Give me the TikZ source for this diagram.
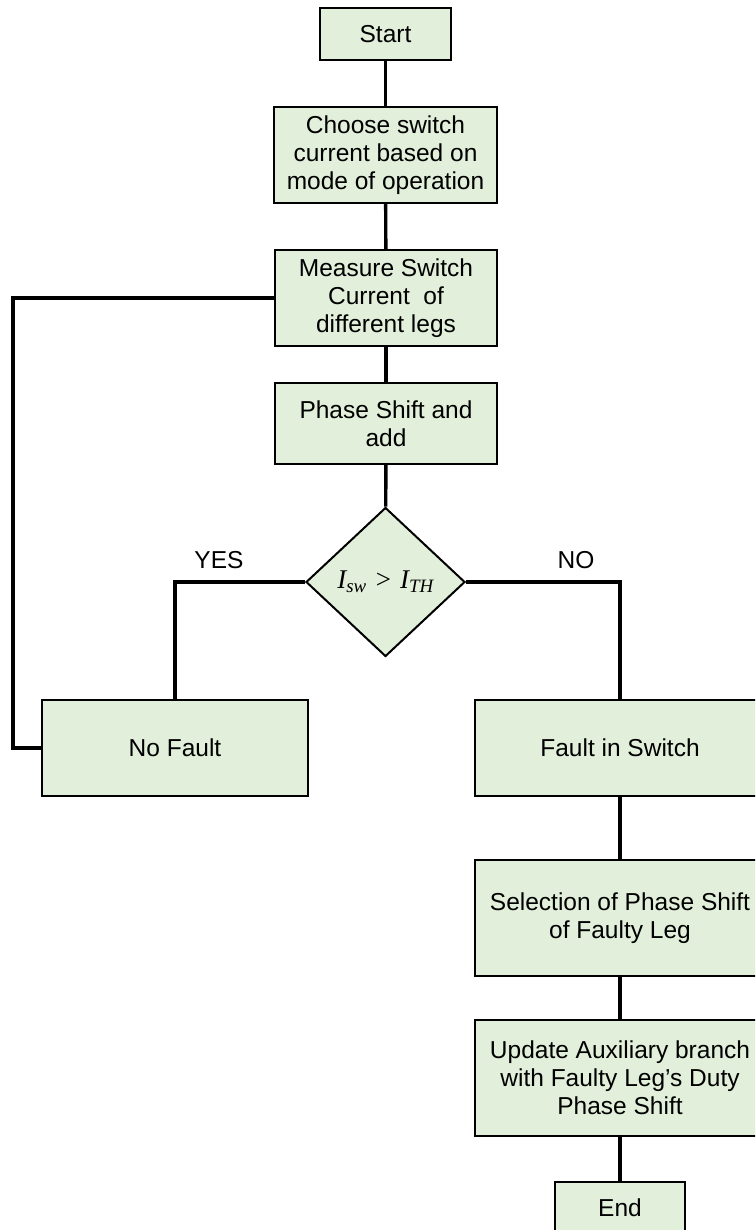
\documentclass[tikz,border=0pt]{standalone}
\usepackage{fontspec}
\setmainfont{Liberation Sans}
\newfontfamily\tnr{Liberation Serif}
\usetikzlibrary{shapes.geometric}
\definecolor{boxfill}{RGB}{226,239,218}

\begin{document}
\begin{tikzpicture}[x=1pt,y=-1pt,
  txt/.style={font=\fontsize{24.5}{28}\selectfont},
  box/.style={txt, draw=black, line width=2pt, fill=boxfill, inner sep=0pt, align=center},
  decision/.style={draw=black, line width=2pt, fill=boxfill, diamond, inner sep=0pt},
  link/.style={line width=3.4pt},
  lbl/.style={txt, inner sep=0pt}]
\clip (0,0) rectangle (755,1230);

% process boxes
\node[box, minimum width=131, minimum height=52] (start) at (385.5,34) {Start};
\node[box, minimum width=223, minimum height=96] (choose) at (385.5,155)
  {Choose switch\\current based on\\mode of operation};
\node[box, minimum width=222, minimum height=96] (measure) at (386,298)
  {Measure Switch\\Current\ \ of\\different legs};
\node[box, minimum width=222, minimum height=81] (phase) at (386,423.5)
  {Phase Shift and\\add};
\node[decision, minimum width=159, minimum height=149] (cmp) at (385.5,582)
  {\fontsize{27}{30}\selectfont\tnr\itshape I\textsubscript{sw}\,\,\upshape>\,\,\itshape I\textsubscript{TH}};
\node[box, minimum width=266, minimum height=96] (nofault) at (175,748) {No Fault};
\node[box, minimum width=290, minimum height=96] (fault) at (620,748) {Fault in Switch};
\node[box, minimum width=290, minimum height=116] (select) at (620,918)
  {Selection of Phase Shift\\of Faulty Leg};
\node[box, minimum width=290, minimum height=116] (update) at (620,1078)
  {Update Auxiliary branch\\with Faulty Leg’s Duty\\Phase Shift};
\node[box, minimum width=130, minimum height=52] (end) at (620,1208) {End};

% branch labels
\node[lbl] (yes) at (219,560) {YES};
\node[lbl] (no) at (576,560) {NO};

% connectors
\draw[link] (start) -- (choose);
\draw[link] (choose) -- (measure);
\draw[link] (measure) -- (phase);
\draw[link] (phase) -- (cmp);
\draw[link] (cmp.west) -| (nofault.north);
\draw[link] (cmp.east) -| (fault.north);
\coordinate (loop) at (13,748);
\draw[link] (nofault.west) -- (loop) |- (measure.west);
\draw[link] (fault) -- (select);
\draw[link] (select) -- (update);
\draw[link] (update) -- (end);
\end{tikzpicture}
\end{document}
